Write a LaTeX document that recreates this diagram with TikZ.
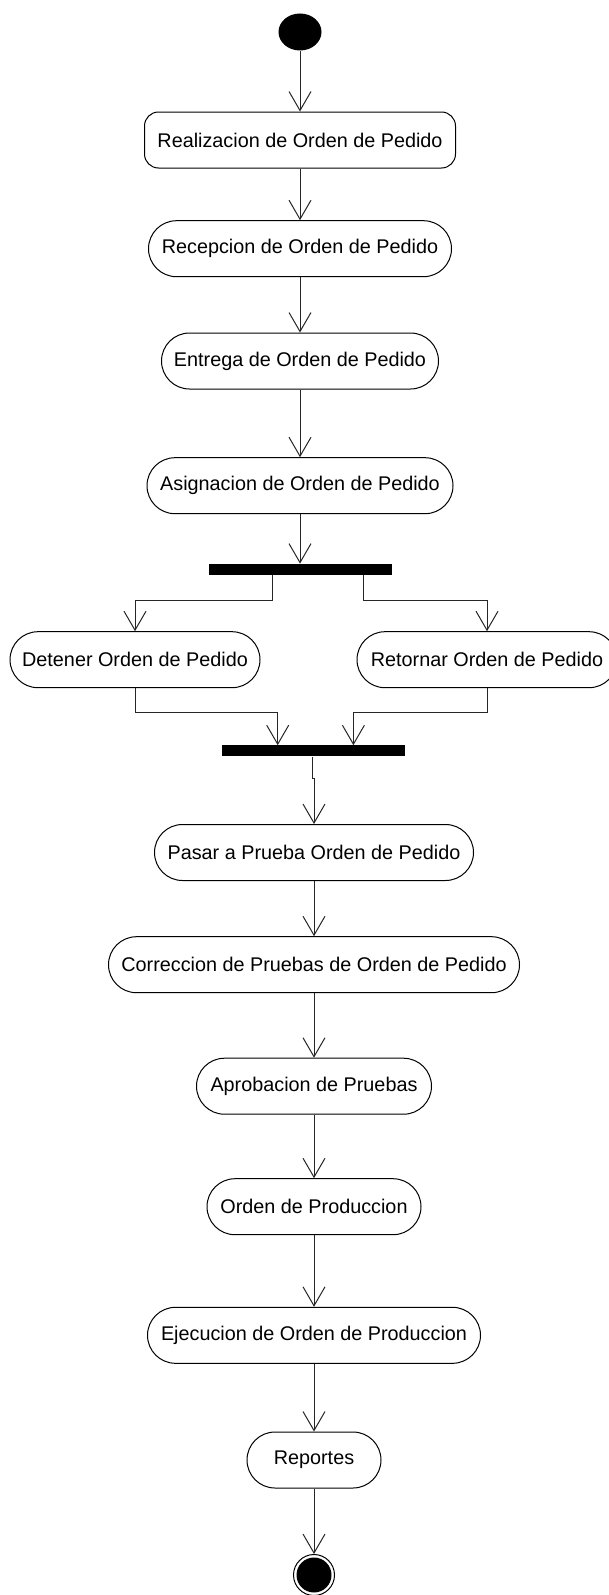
\documentclass[tikz,border=0pt]{standalone}
\usepackage{fontspec}
\setmainfont{Liberation Sans}
\usetikzlibrary{arrows.meta,shapes.geometric,calc}

\begin{document}
\begin{tikzpicture}[x=1pt,y=-1pt,
  every node/.style={font=\fontsize{19.8pt}{24pt}\selectfont},
  activity/.style={draw, line width=1pt, rectangle, rounded corners=28pt,
    minimum height=56pt, inner sep=0pt, fill=white},
  firstact/.style={activity, rounded corners=14pt},
  syncbar/.style={fill=black, rectangle, inner sep=0pt, minimum height=11pt},
  flow/.style={line width=1pt, black!85,
    -{Straight Barb[length=19pt,width=22pt,line width=1pt]}}
]
\useasboundingbox (0,0) rectangle (609,1595);

% initial state
\node (start) [ellipse, fill=black, inner sep=0pt, minimum width=43pt, minimum height=37pt] at (300,32) {};

% main sequence, upper part
\node (realiza) [firstact, minimum width=311pt] at (300,140) {Realizacion de Orden de Pedido};
\node (recep)   [activity, minimum width=303pt] at (300,248.7) {Recepcion de Orden de Pedido};
\node (entrega) [activity, minimum width=277pt] at (300,361) {Entrega de Orden de Pedido};
\node (asigna)  [activity, minimum width=306pt] at (300,485.7) {Asignacion de Orden de Pedido};

% fork and the two parallel activities
\node (fork) [syncbar, minimum width=183pt] at (300,569.3) {};
\node (detener)  [activity, minimum width=250pt] at (135,659.7) {Detener Orden de Pedido};
\node (retornar) [activity, minimum width=260pt] at (487,659.7) {Retornar Orden de Pedido};

% join
\node (join) [syncbar, minimum width=182.5pt] at (313.7,750.9) {};

% main sequence, lower part
\node (pasar)   [activity, minimum width=319pt] at (314,852.5) {Pasar a Prueba Orden de Pedido};
\node (correc)  [activity, minimum width=411pt] at (314,964.7) {Correccion de Pruebas de Orden de Pedido};
\node (aprob)   [activity, minimum width=235pt] at (314,1086.2) {Aprobacion de Pruebas};
\node (ordprod) [activity, minimum width=214pt] at (314,1206.7) {Orden de Produccion};
\node (ejec)    [activity, minimum width=333pt] at (314,1335.3) {Ejecucion de Orden de Produccion};
\node (report)  [activity, minimum width=134pt] at (314,1460) {Reportes};

% final state
\node (final) [circle, draw, line width=1pt, inner sep=0pt, minimum size=41pt,
  path picture={\fill[black] (path picture bounding box.center) circle (17.5pt);}]
  at (314,1575) {};

% transitions
\draw[flow] (start) -- (realiza);
\draw[flow] (realiza) -- (recep);
\draw[flow] (recep) -- (entrega);
\draw[flow] (entrega) -- (asigna);
\draw[flow] (asigna) -- (fork);

\draw[flow] ($(fork.south)+(-28,0)$) -- ++(0,25.7) -| (detener.north);
\draw[flow] ($(fork.south)+(63,0)$) -- ++(0,25.7) -| (retornar.north);

\draw[flow] (detener.south) -- ++(0,24) -| ($(join.north)+(-36,0)$);
\draw[flow] (retornar.south) -- ++(0,24) -| ($(join.north)+(39.7,0)$);

\draw[flow] ($(join.south)+(-1.7,0)$) -- ++(0,21.7) -| (pasar.north);

\draw[flow] (pasar) -- (correc);
\draw[flow] (correc) -- (aprob);
\draw[flow] (aprob) -- (ordprod);
\draw[flow] (ordprod) -- (ejec);
\draw[flow] (ejec) -- (report);
\draw[flow] (report) -- (final);
\end{tikzpicture}
\end{document}
